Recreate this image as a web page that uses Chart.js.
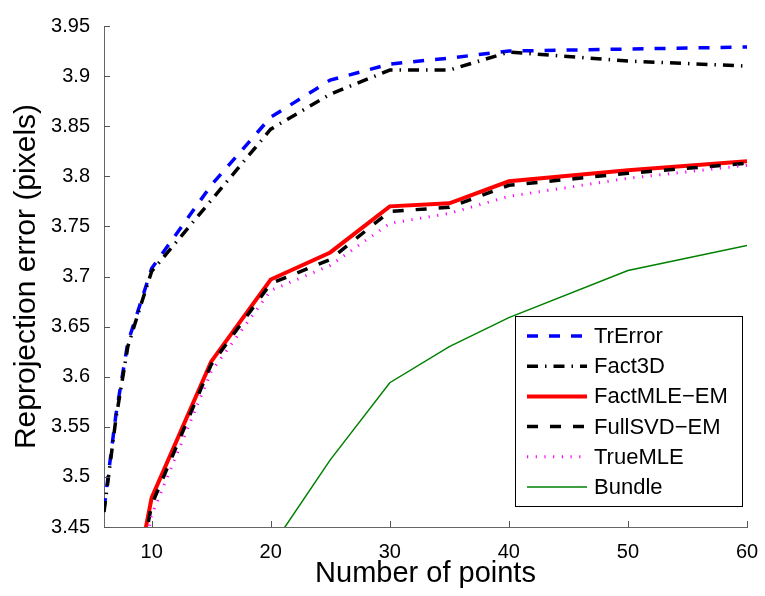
<!DOCTYPE html>
<html>
<head>
<meta charset="utf-8">
<script src="https://cdn.jsdelivr.net/npm/chart.js@4.4.1/dist/chart.umd.min.js"></script>
<style>
  html, body { margin: 0; padding: 0; background: #fff; }
  #wrap { width: 765px; height: 596px; position: relative; }
</style>
</head>
<body>
<div id="wrap"><canvas id="plot" width="765" height="596"></canvas></div>
<script>
// number of points on the x axis
const nPoints = [6, 7, 8, 9, 10, 15, 20, 25, 30, 35, 40, 50, 60];

// reprojection error per method (null = below the visible range)
const trError   = [3.468, 3.562, 3.634, 3.671, 3.708, 3.791, 3.859, 3.896, 3.912, 3.918, 3.925, 3.927, 3.929];
const fact3D    = [3.465, 3.558, 3.630, 3.668, 3.705, 3.776, 3.847, 3.882, 3.906, 3.906, 3.924, 3.915, 3.910];
const factMLE   = [null, null, null, 3.418, 3.479, 3.615, 3.697, 3.724, 3.770, 3.773, 3.795, 3.806, 3.815];
const fullSVD   = [null, null, null, 3.410, 3.472, 3.612, 3.693, 3.717, 3.765, 3.769, 3.791, 3.803, 3.813];
const trueMLE   = [null, null, null, 3.400, 3.462, 3.605, 3.686, 3.711, 3.753, 3.763, 3.780, 3.798, 3.811];
const bundle    = [null, null, null, null, null, null, 3.429, 3.517, 3.594, 3.630, 3.659, 3.706, 3.731];

const xTicks = [10, 20, 30, 40, 50, 60];
const yTicks = [3.45, 3.5, 3.55, 3.6, 3.65, 3.7, 3.75, 3.8, 3.85, 3.9, 3.95];
const yTickLabels = ["3.45", "3.5", "3.55", "3.6", "3.65", "3.7", "3.75", "3.8", "3.85", "3.9", "3.95"];

const FONT = "'Liberation Sans', Arial, Helvetica, sans-serif";

function pts(ys) {
  return nPoints.map((x, i) => ({ x, y: ys[i] }));
}

// matlab style ticks that point into the axes
const innerTicks = {
  id: "innerTicks",
  afterDatasetsDraw(chart) {
    const { ctx, chartArea, scales } = chart;
    ctx.save();
    ctx.strokeStyle = "#555";
    ctx.lineWidth = 1;
    ctx.beginPath();
    xTicks.forEach(v => {
      const px = Math.round(scales.x.getPixelForValue(v)) + 0.5;
      ctx.moveTo(px, chartArea.bottom);
      ctx.lineTo(px, chartArea.bottom - 6);
    });
    yTicks.forEach(v => {
      const py = Math.round(scales.y.getPixelForValue(v)) + 0.5;
      ctx.moveTo(chartArea.left, py);
      ctx.lineTo(chartArea.left + 6, py);
    });
    ctx.stroke();
    ctx.restore();
  }
};

// boxed legend in the lower right corner
const boxLegend = {
  id: "boxLegend",
  afterDraw(chart) {
    const { ctx, chartArea } = chart;
    const sets = chart.data.datasets;
    const right = chartArea.right - 5, bottom = chartArea.bottom - 21;
    const w = 227, h = 190;
    const left = right - w, top = bottom - h;
    ctx.save();
    ctx.fillStyle = "#fff";
    ctx.fillRect(left, top, w, h);
    ctx.strokeStyle = "#000";
    ctx.lineWidth = 1;
    ctx.strokeRect(Math.round(left) + 0.5, Math.round(top) + 0.5, w, h);
    ctx.font = "22px " + FONT;
    ctx.textBaseline = "middle";
    sets.forEach((ds, i) => {
      const y = top + 20 + i * 30.2;
      ctx.strokeStyle = ds.borderColor;
      ctx.lineWidth = ds.borderWidth;
      ctx.setLineDash(ds.borderDash || []);
      ctx.beginPath();
      ctx.moveTo(left + 12, y);
      ctx.lineTo(left + 72, y);
      ctx.stroke();
      ctx.setLineDash([]);
      ctx.fillStyle = "#000";
      ctx.fillText(ds.label, left + 79, y + 1);
    });
    ctx.restore();
  }
};

const lineSet = (label, data, color, width, dash, order) => ({
  label,
  data: pts(data),
  borderColor: color,
  backgroundColor: color,
  borderWidth: width,
  borderDash: dash,
  pointRadius: 0,
  tension: 0,
  fill: false,
  spanGaps: false,
  clip: 0,
  order
});

new Chart(document.getElementById("plot"), {
  type: "line",
  data: {
    datasets: [
      lineSet("TrError", trError, "#0000ff", 3.5, [11, 11], 6),
      lineSet("Fact3D", fact3D, "#000000", 3.5, [11, 7, 1.5, 7], 5),
      lineSet("FactMLE\u2212EM", factMLE, "#ff0000", 4, [], 4),
      lineSet("FullSVD\u2212EM", fullSVD, "#000000", 3.5, [11, 12], 3),
      lineSet("TrueMLE", trueMLE, "#ff00ff", 3, [1.2, 7.5], 2),
      lineSet("Bundle", bundle, "#008000", 1.5, [], 1)
    ]
  },
  options: {
    responsive: false,
    animation: false,
    events: [],
    layout: { padding: { left: 0, right: 18, top: 21, bottom: 0 } },
    plugins: {
      legend: { display: false },
      tooltip: { enabled: false }
    },
    scales: {
      x: {
        type: "linear",
        min: 6,
        max: 60,
        afterBuildTicks: s => { s.ticks = xTicks.map(v => ({ value: v })); },
        afterFit: s => { s.height = 596 - 527; },
        grid: { display: false },
        border: { display: true, color: "#666", width: 1 },
        ticks: {
          color: "#000",
          font: { family: FONT, size: 20 },
          padding: 5,
          maxRotation: 0,
          callback: v => String(v)
        },
        title: {
          display: true,
          text: "Number of points",
          color: "#000",
          font: { family: FONT, size: 29 },
          padding: { top: 0, bottom: 5 }
        }
      },
      y: {
        type: "linear",
        min: 3.45,
        max: 3.95,
        afterBuildTicks: s => { s.ticks = yTicks.map(v => ({ value: v })); },
        afterFit: s => { s.width = 104; },
        grid: { display: false, drawTicks: false },
        border: { display: true, color: "#666", width: 1 },
        ticks: {
          color: "#000",
          font: { family: FONT, size: 20 },
          padding: 14,
          callback: (v, i) => yTickLabels[i]
        },
        title: {
          display: true,
          text: "Reprojection error (pixels)",
          color: "#000",
          font: { family: FONT, size: 30 },
          padding: { top: 9, bottom: 0 }
        }
      }
    }
  },
  plugins: [innerTicks, boxLegend]
});
</script>
</body>
</html>
